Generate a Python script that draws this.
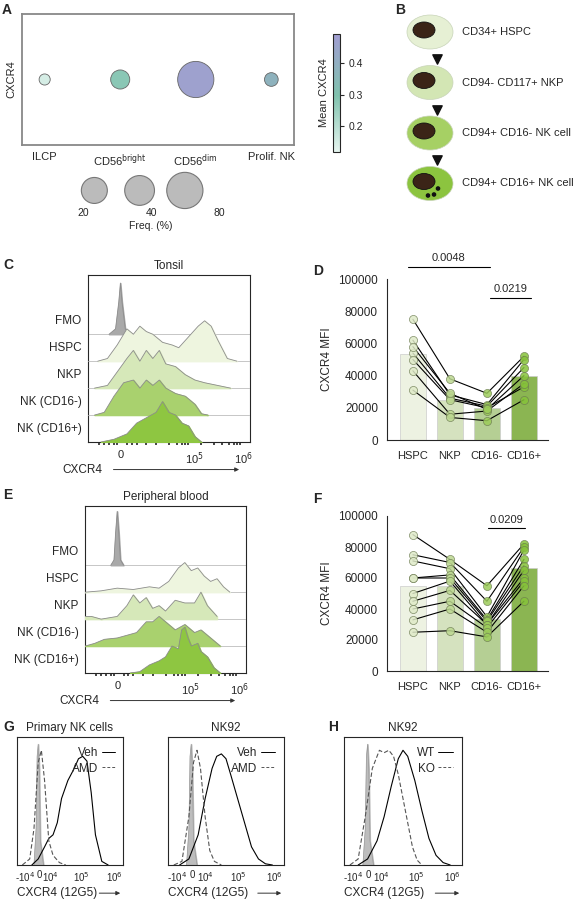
import numpy as np, pandas as pd, seaborn as sns, matplotlib
matplotlib.use("Agg")
import matplotlib.pyplot as plt
from matplotlib.colors import LinearSegmentedColormap
from matplotlib.patches import Ellipse, Circle

sns.set_style("white")
plt.rcParams['font.family'] = ['Liberation Sans', 'DejaVu Sans']
plt.rcParams['font.size'] = 8

# ---------------- data ----------------
a_cats = ["ILCP", "CD56$^{\\mathrm{bright}}$", "CD56$^{\\mathrm{dim}}$", "Prolif. NK"]
a_freq = [6, 21, 80, 10]
a_mean = [0.15, 0.28, 0.47, 0.38]
freq_legend = [20, 40, 80]

b_labels = ["CD34+ HSPC", "CD94- CD117+ NKP", "CD94+ CD16- NK cell", "CD94+ CD16+ NK cell"]
b_colors = ["#e6f0d4", "#d3e6b4", "#a6d064", "#8cc43f"]

mfi_cats = ["HSPC", "NKP", "CD16-", "CD16+"]
d_hspc = [75000, 62000, 54000, 50000, 43000, 31000, 58000]
d_nkp = [38000, 28000, 26000, 25000, 16000, 14000, 29000]
d_cd16m = [29000, 22000, 21000, 20000, 18000, 12000, 19000]
d_cd16p = [52000, 50000, 45000, 33000, 35000, 25000, 40000]
f_hspc = [88000, 75000, 71000, 60000, 60000, 50000, 45000, 40000, 33000, 25000]
f_nkp = [72000, 70000, 66000, 62000, 60000, 58000, 52000, 45000, 40000, 26000]
f_cd16m = [55000, 45000, 35000, 33000, 32000, 30000, 30000, 28000, 25000, 22000]
f_cd16p = [82000, 80000, 78000, 72000, 68000, 65000, 60000, 58000, 55000, 45000]

hist_rows = ["FMO", "HSPC", "NKP", "NK (CD16-)", "NK (CD16+)"]
hist_colors = ["#a9a9a9", "#eef5df", "#d6e8b9", "#a9d16e", "#8ec641"]
# tonsil curves (x as fraction of axis, y in row units)
c_fmo_x  = [0.13, 0.17, 0.19, 0.20, 0.21, 0.23, 0.26]
c_fmo_y  = [0, 0.2, 1.2, 1.9, 1.2, 0.2, 0]
c_hspc_x = [0.06, 0.12, 0.18, 0.24, 0.28, 0.32, 0.36, 0.40, 0.46, 0.52, 0.56, 0.62, 0.68, 0.72, 0.76, 0.80, 0.86, 0.92]
c_hspc_y = [0, 0.1, 0.6, 1.2, 1.0, 1.3, 1.1, 1.0, 0.7, 0.6, 0.5, 0.9, 1.3, 1.5, 1.3, 0.8, 0.1, 0]
c_nkp_x  = [0.04, 0.12, 0.18, 0.24, 0.28, 0.32, 0.36, 0.40, 0.44, 0.48, 0.54, 0.60, 0.66, 0.72, 0.80, 0.88]
c_nkp_y  = [0, 0.1, 0.6, 1.1, 1.4, 1.0, 1.4, 1.1, 1.4, 0.9, 0.8, 0.5, 0.3, 0.2, 0.1, 0]
c_c16m_x = [0.04, 0.10, 0.16, 0.22, 0.28, 0.32, 0.36, 0.40, 0.44, 0.48, 0.54, 0.60, 0.66, 0.70, 0.74]
c_c16m_y = [0, 0.1, 0.7, 1.2, 1.3, 1.0, 1.3, 1.1, 1.3, 1.0, 0.8, 0.7, 0.4, 0.05, 0]
c_c16p_x = [0.08, 0.16, 0.24, 0.30, 0.36, 0.42, 0.46, 0.50, 0.54, 0.58, 0.62, 0.66, 0.70]
c_c16p_y = [0, 0.1, 0.3, 0.7, 0.9, 1.1, 1.5, 1.1, 1.0, 0.7, 0.6, 0.2, 0]
# blood curves
e_fmo_x  = [0.16, 0.18, 0.19, 0.20, 0.21, 0.22, 0.24]
e_fmo_y  = [0, 0.2, 1.2, 2.0, 1.2, 0.2, 0]
e_hspc_x = [0.00, 0.10, 0.20, 0.30, 0.40, 0.46, 0.52, 0.58, 0.62, 0.66, 0.70, 0.74, 0.78, 0.82, 0.86, 0.90]
e_hspc_y = [0, 0.05, 0.15, 0.1, 0.2, 0.15, 0.4, 0.9, 1.1, 0.8, 0.9, 0.6, 0.4, 0.5, 0.2, 0]
e_nkp_x  = [0.00, 0.04, 0.10, 0.20, 0.26, 0.30, 0.34, 0.38, 0.42, 0.46, 0.50, 0.56, 0.62, 0.68, 0.72, 0.76, 0.82]
e_nkp_y  = [0.1, 0.1, 0.0, 0.1, 0.5, 0.9, 0.6, 0.8, 0.4, 0.5, 0.3, 0.7, 0.6, 0.6, 1.0, 0.5, 0.1]
e_c16m_x = [0.00, 0.06, 0.12, 0.20, 0.26, 0.32, 0.38, 0.42, 0.46, 0.50, 0.56, 0.62, 0.68, 0.72, 0.78, 0.84]
e_c16m_y = [0, 0.1, 0.25, 0.3, 0.4, 0.5, 0.9, 0.9, 1.1, 0.9, 0.6, 0.8, 0.5, 0.6, 0.3, 0]
e_c16p_x = [0.28, 0.34, 0.40, 0.46, 0.50, 0.54, 0.58, 0.60, 0.62, 0.64, 0.66, 0.70, 0.72, 0.76, 0.80, 0.84]
e_c16p_y = [0, 0.05, 0.3, 0.45, 0.6, 1.0, 0.9, 1.6, 1.7, 1.3, 1.0, 1.1, 0.8, 0.6, 0.2, 0]
hist_ticks = [0.20, 0.655, 0.96]
hist_ticklabels = ["0", "10$^5$", "10$^6$"]

g_iso_x = [0.16, 0.18, 0.19, 0.20, 0.21, 0.22, 0.25]
g_iso_y = [0, 0.3, 0.9, 1.0, 0.8, 0.2, 0]
g1_veh_x = [0.14, 0.20, 0.26, 0.30, 0.34, 0.38, 0.42, 0.48, 0.54, 0.58, 0.62, 0.66, 0.70, 0.74, 0.80, 0.86]
g1_veh_y = [0, 0.05, 0.15, 0.22, 0.25, 0.35, 0.55, 0.7, 0.8, 0.88, 0.9, 0.86, 0.6, 0.25, 0.03, 0]
g1_amd_x = [0.05, 0.12, 0.16, 0.20, 0.23, 0.26, 0.30, 0.34, 0.40, 0.46]
g1_amd_y = [0, 0.05, 0.3, 0.85, 0.95, 0.7, 0.2, 0.08, 0.02, 0]
g2_veh_x = [0.10, 0.18, 0.26, 0.32, 0.38, 0.42, 0.46, 0.50, 0.54, 0.60, 0.66, 0.72, 0.78, 0.84, 0.90]
g2_veh_y = [0, 0.05, 0.25, 0.55, 0.8, 0.9, 0.92, 0.88, 0.75, 0.55, 0.35, 0.15, 0.05, 0.01, 0]
g2_amd_x = [0.05, 0.12, 0.18, 0.22, 0.25, 0.28, 0.32, 0.36, 0.40, 0.46]
g2_amd_y = [0, 0.03, 0.4, 0.85, 0.95, 0.8, 0.4, 0.12, 0.03, 0]
h_wt_x = [0.12, 0.20, 0.28, 0.34, 0.40, 0.46, 0.50, 0.54, 0.60, 0.66, 0.72, 0.78, 0.84, 0.90]
h_wt_y = [0, 0.05, 0.2, 0.4, 0.65, 0.88, 0.95, 0.9, 0.7, 0.45, 0.22, 0.08, 0.02, 0]
h_ko_x = [0.05, 0.12, 0.18, 0.24, 0.30, 0.34, 0.38, 0.42, 0.46, 0.50, 0.54, 0.58, 0.62, 0.66]
h_ko_y = [0, 0.05, 0.4, 0.8, 0.95, 0.93, 0.95, 0.9, 0.75, 0.55, 0.35, 0.15, 0.04, 0]
g_ticks = [0.075, 0.21, 0.32, 0.61, 0.92]
g_ticklabels = ["-10$^4$", "0", "10$^4$", "10$^5$", "10$^6$"]

W, H = 586, 900
fig = plt.figure(figsize=(5.86, 9.0), dpi=100)
def ax_px(x, y, w, h):
    return fig.add_axes([x / W, 1 - (y + h) / H, w / W, h / H])
def letter(x, y, s):
    fig.text(x / W, 1 - y / H, s, fontsize=10, fontweight='bold', va='top')

# ---------------- A ----------------
cmap = LinearSegmentedColormap.from_list("c", [(0, "#e6f5f0"), (0.48, "#80c2ae"), (1, "#a19dd2")])
axA = ax_px(22, 14, 272, 131)
dfA = pd.DataFrame({"cat": a_cats, "freq": a_freq, "mean": a_mean, "y": [0] * 4})
sns.scatterplot(data=dfA, x="cat", y="y", size="freq", hue="mean", palette=cmap,
                hue_norm=(0.12, 0.49), sizes=(64, 680), size_norm=(6, 80),
                edgecolor="#666666", linewidth=0.6, legend=False, ax=axA)
axA.set_ylim(-1, 1); axA.set_xlim(-0.3, 3.3)
axA.set_yticks([]); axA.set_xlabel(""); axA.set_ylabel("CXCR4", fontsize=8)
axA.tick_params(axis='x', length=0, labelsize=8, pad=5)
for s in axA.spines.values():
    s.set_color("#888888"); s.set_linewidth(1.3)
cax = ax_px(333, 34, 7, 118)
sm = plt.cm.ScalarMappable(cmap=cmap, norm=plt.Normalize(0.12, 0.49))
cb = fig.colorbar(sm, cax=cax, ticks=[0.2, 0.3, 0.4])
cb.ax.tick_params(labelsize=7.5, length=3)
cb.outline.set_linewidth(0.8)
cb.ax.yaxis.set_label_position('left')
cb.set_label("Mean CXCR4", fontsize=8, labelpad=3)
axL = ax_px(50, 170, 200, 45)
dfL = pd.DataFrame({"x": [0, 1, 2], "y": [0] * 3, "f": freq_legend})
sns.scatterplot(data=dfL, x="x", y="y", size="f", sizes=(350, 680), size_norm=(20, 80),
                color="#bbbbbb", edgecolor="#777777", linewidth=0.8, legend=False, ax=axL)
axL.set_xlim(-0.98, 3.44); axL.set_ylim(-1.2, 1)
axL.axis('off')
for i, f in enumerate(freq_legend):
    fig.text((83 + 68 * i) / W, 1 - 213 / H, str(f), ha='center', va='center', fontsize=7.5)
fig.text(151 / W, 1 - 226 / H, "Freq. (%)", ha='center', va='center', fontsize=7.5)
letter(2, 3, "A")

# ---------------- B ----------------
axB = ax_px(380, 0, 206, 230)
axB.set_xlim(380, 586); axB.set_ylim(230, 0); axB.axis('off')
for i, (lab, col) in enumerate(zip(b_labels, b_colors)):
    cy = 32 + i * 50.5
    axB.add_patch(Ellipse((430, cy), 46, 34, facecolor=col, edgecolor="#c8d4b8", lw=0.5))
    axB.add_patch(Ellipse((424, cy - 2), 22, 16, facecolor="#3b2417", edgecolor="#111111", lw=0.6))
    if i == 3:
        for dx, dy in [(438, cy + 5), (434, cy + 11), (428, cy + 12)]:
            axB.add_patch(Circle((dx, dy), 1.6, color="#111111"))
    axB.text(462, cy, lab, va='center', fontsize=8)
    if i < 3:
        axB.scatter([437], [cy + 27], marker="v", s=45, color="#111111")
letter(395, 3, "B")

# ---------------- C / E histograms ----------------
def ridge(ax, xs_list, ys_list, title):
    n = len(xs_list)
    for i, (xs, ys, col) in enumerate(zip(xs_list, ys_list, hist_colors)):
        base = (n - 1 - i) * 1.0
        y = base + np.array(ys)
        ax.plot([0, 1], [base, base], color="#bdbdbd", lw=0.6, zorder=i + 2)
        ax.fill_between(xs, base, y, color=col, zorder=i + 2)
        ax.plot(xs, y, color="#8c8c8c", lw=0.6, zorder=i + 2)
        ax.text(-0.04, base + 0.5, hist_rows[i], ha='right', va='center', fontsize=8.5,
                transform=ax.get_yaxis_transform())
    ax.set_xlim(0, 1); ax.set_ylim(0, 6.2)
    ax.set_yticks([])
    for s in ax.spines.values():
        s.set_linewidth(0.8)
    ax.set_xticks(hist_ticks); ax.set_xticklabels(hist_ticklabels, fontsize=8)
    ax.set_xticks([0.07, 0.1, 0.13, 0.16, 0.18, 0.24, 0.27, 0.3, 0.36, 0.42, 0.5, 0.55,
                   0.58, 0.6, 0.62, 0.7, 0.78, 0.83, 0.87, 0.9, 0.92, 0.94], minor=True)
    ax.tick_params(axis='x', which='major', length=4, width=1.2, pad=2, direction='out')
    ax.tick_params(axis='x', which='minor', length=2.5, width=1.2, direction='out', bottom=True)
    ax.set_title(title, fontsize=8.5, pad=4)
    ax.text(-0.16, -0.165, "CXCR4", transform=ax.transAxes, fontsize=8.5, va='center')
    ax.annotate("", xy=(0.95, -0.165), xytext=(0.14, -0.165), xycoords='axes fraction',
                arrowprops=dict(arrowstyle="-|>", lw=0.7, color="#333333", mutation_scale=6))

axC = ax_px(88, 275, 162, 167)
ridge(axC, [c_fmo_x, c_hspc_x, c_nkp_x, c_c16m_x, c_c16p_x],
      [c_fmo_y, c_hspc_y, c_nkp_y, c_c16m_y, c_c16p_y], "Tonsil")
letter(3, 258, "C")
axE = ax_px(85, 506, 161, 167)
ridge(axE, [e_fmo_x, e_hspc_x, e_nkp_x, e_c16m_x, e_c16p_x],
      [e_fmo_y, e_hspc_y, e_nkp_y, e_c16m_y, e_c16p_y], "Peripheral blood")
letter(3, 488, "E")

# ---------------- D / F ----------------
bar_cols = ["#eef5df", "#d6e8b9", "#b6d98a", "#8ec641"]
pt_cols = ["#dfeac8", "#bcd891", "#9ccc5a", "#86c23a"]
def paired(ax, groups, sigs):
    df = pd.DataFrame({"cat": np.repeat(mfi_cats, [len(g) for g in groups]),
                       "v": np.concatenate(groups)})
    sns.barplot(data=df, x="cat", y="v", hue="cat", palette=bar_cols, errorbar=None,
                width=0.7, edgecolor="#cccccc", linewidth=0.5, legend=False, ax=ax)
    for k in range(len(groups[0])):
        ax.plot(range(4), [g[k] for g in groups], color="black", lw=0.8, zorder=3)
    for i, g in enumerate(groups):
        ax.scatter([i] * len(g), g, s=34, color=pt_cols[i], edgecolor="#6b7a50",
                   linewidth=0.5, alpha=0.85, zorder=4)
    ax.set_xlim(-0.7, 3.65)
    ax.set_ylim(0, 100000); ax.set_yticks(range(0, 100001, 20000))
    ax.set_xlabel(""); ax.set_ylabel("CXCR4 MFI", fontsize=8.5)
    ax.tick_params(axis='y', labelsize=8.5, length=3)
    ax.tick_params(axis='x', labelsize=8, length=3, pad=5)
    sns.despine(ax=ax)
    for (a, b, y, t) in sigs:
        ax.plot([a, b], [y, y], color="black", lw=0.8, clip_on=False)
        ax.text((a + b) / 2, y + 2500, t, ha='center', va='bottom', fontsize=8)
    return ax

axD = ax_px(387, 279, 161, 161)
paired(axD, [d_hspc, d_nkp, d_cd16m, d_cd16p], [(-0.14, 2.08, 107500, "0.0048"), (2.08, 3.2, 88000, "0.0219")])
letter(313, 264, "D")
axF = ax_px(387, 516, 161, 155)
paired(axF, [f_hspc, f_nkp, f_cd16m, f_cd16p], [(2.03, 3.03, 92000, "0.0209")])
letter(313, 492, "F")

# ---------------- G / H ----------------
def flow(ax, title, ax_, ay_, bx_, by_, la, lb):
    ax.fill_between(g_iso_x, 0, g_iso_y, color="#bdbdbd", zorder=1)
    ax.plot(g_iso_x, g_iso_y, color="#999999", lw=0.5)
    ax.plot(ax_, ay_, color="black", lw=0.8)
    ax.plot(bx_, by_, color="#555555", lw=0.8, ls=(0, (4, 2)))
    ax.set_xlim(0, 1); ax.set_ylim(0, 1.06); ax.set_yticks([])
    ax.set_xticks(g_ticks); ax.set_xticklabels(g_ticklabels, fontsize=7)
    ax.tick_params(axis='x', length=2.5, pad=1)
    for s in ax.spines.values():
        s.set_linewidth(0.8)
    ax.set_title(title, fontsize=8.5, pad=4)
    ax.text(0.77, 0.85, la, transform=ax.transAxes, fontsize=8.5, ha='right')
    ax.text(0.77, 0.73, lb, transform=ax.transAxes, fontsize=8.5, ha='right')
    ax.plot([0.8, 0.92], [0.885, 0.885], transform=ax.transAxes, color="black", lw=0.7)
    ax.plot([0.8, 0.92], [0.765, 0.765], transform=ax.transAxes, color="#555555", lw=0.7, ls=(0, (3, 2)))
    ax.text(0.0, -0.22, "CXCR4 (12G5)", transform=ax.transAxes, fontsize=8.5, va='center')
    ax.annotate("", xy=(1.0, -0.22), xytext=(0.75, -0.22), xycoords='axes fraction',
                arrowprops=dict(arrowstyle="-|>", lw=0.7, color="#333333", mutation_scale=6))

axG1 = ax_px(17, 737, 106, 128)
flow(axG1, "Primary NK cells", g1_veh_x, g1_veh_y, g1_amd_x, g1_amd_y, "Veh", "AMD")
axG2 = ax_px(168, 737, 116, 128)
flow(axG2, "NK92", g2_veh_x, g2_veh_y, g2_amd_x, g2_amd_y, "Veh", "AMD")
letter(3, 720, "G")
axH = ax_px(344, 737, 118, 128)
flow(axH, "NK92", h_wt_x, h_wt_y, h_ko_x, h_ko_y, "WT", "KO")
letter(328, 720, "H")

fig.savefig("out.png", dpi=100)
